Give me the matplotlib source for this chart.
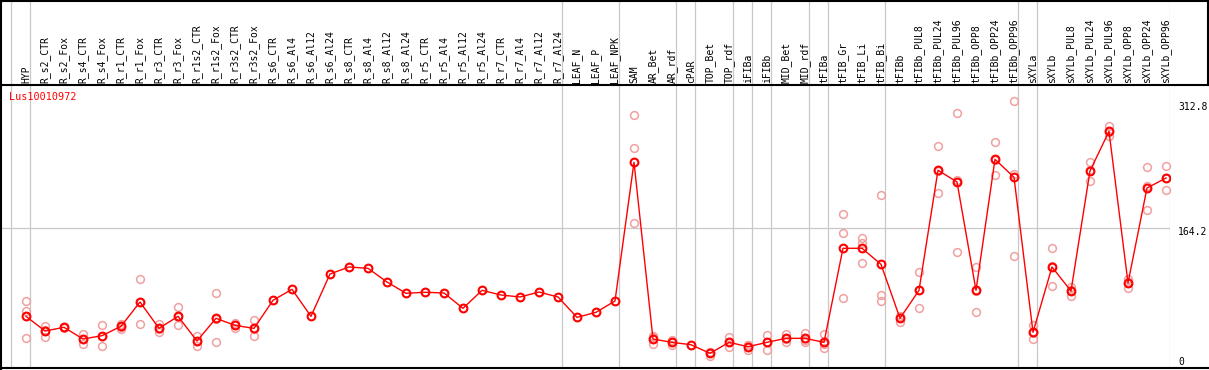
import numpy as np
import matplotlib
matplotlib.use("Agg")
import matplotlib.pyplot as plt
from matplotlib.lines import Line2D

categories = ["HYP",
    "R_s2_CTR", "R_s2_Fox", "R_s4_CTR", "R_s4_Fox", "R_r1_CTR", "R_r1_Fox", "R_r3_CTR", "R_r3_Fox",
    "R_r1s2_CTR", "R_r1s2_Fox", "R_r3s2_CTR", "R_r3s2_Fox", "R_s6_CTR", "R_s6_Al4", "R_s6_Al12", "R_s6_Al24",
    "R_s8_CTR", "R_s8_Al4", "R_s8_Al12", "R_s8_Al24", "R_r5_CTR", "R_r5_Al4", "R_r5_Al12", "R_r5_Al24",
    "R_r7_CTR", "R_r7_Al4", "R_r7_Al12", "R_r7_Al24",
    "LEAF_N", "LEAF_P", "LEAF_NPK",
    "SAM", "AR_Bet", "AR_rdf",
    "cPAR",
    "TOP_Bet", "TOP_rdf",
    "iFIBa", "iFIBb",
    "MID_Bet", "MID_rdf",
    "tFIBa",
    "tFIB_Gr", "tFIB_Li", "tFIB_Bi",
    "tFIBb", "tFIBb_PUL8", "tFIBb_PUL24", "tFIBb_PUL96", "tFIBb_OPP8", "tFIBb_OPP24", "tFIBb_OPP96",
    "sXYLa",
    "sXYLb", "sXYLb_PUL8", "sXYLb_PUL24", "sXYLb_PUL96", "sXYLb_OPP8", "sXYLb_OPP24", "sXYLb_OPP96"]

group_sizes = [1, 28, 3, 3, 1, 2, 1, 1, 2, 1, 3, 7, 1, 7]

means = [60.6,
    43.4, 47.7, 34.0, 37.9, 48.9, 77.4, 46.5, 60.6,
    31.7, 58.3, 50.0, 46.5, 79.4, 92.3, 60.6, 110.3,
    118.5, 116.9, 100.9, 87.6, 88.8, 88.0, 70.0, 91.1,
    85.6, 83.3, 89.1, 83.3,
    59.4, 65.3, 78.6,
    241.3, 34.0, 30.1,
    27.3,
    17.2, 30.1,
    25.0, 30.1,
    34.8, 34.8,
    30.1,
    140.4, 140.4, 121.6,
    58.3, 91.1, 231.9, 218.2, 91.1, 244.8, 223.7,
    41.9,
    118.5, 90.3, 231.1, 277.6, 99.7, 211.1, 222.8]

nan = np.nan
rep1 = [78.6,
    49.3, 48.5, 39.9, 50.0, 52.0, 104.0, 51.6, 71.5,
    37.9, 87.6, 53.0, 56.3, nan, nan, nan, nan,
    nan, nan, nan, nan, nan, nan, nan, nan,
    nan, nan, nan, nan,
    nan, nan, nan,
    296.4, 37.9, 32.7,
    nan,
    19.2, 36.0,
    27.0, 38.3,
    39.9, 41.4,
    39.5,
    180.2, 152.8, 202.6,
    61.3, 112.2, 260.0, 298.7, 118.1, 264.7, 312.8,
    50.4,
    140.4, 94.6, 241.6, 283.8, 104.7, 235.4, 236.6]
rep2 = [66.9,
    36.4, 46.5, 28.5, 26.2, 46.1, 51.2, 42.2, 50.0,
    25.8, 30.1, 47.0, 37.1, nan, nan, nan, nan,
    nan, nan, nan, nan, nan, nan, nan, nan,
    nan, nan, nan, nan,
    nan, nan, nan,
    257.7, 28.1, 27.0,
    nan,
    13.7, 24.3,
    21.1, 21.5,
    30.1, 30.1,
    23.1,
    158.0, 147.0, 85.6,
    54.3, 70.0, 204.9, 135.7, 65.3, 226.0, 131.0,
    33.7,
    95.8, 84.8, 219.0, 272.1, 93.8, 185.0, 208.8]
rep3 = [34.8,
    44.5, 48.1, 33.6, 37.5, 48.6, 77.0, 45.8, 60.3,
    31.4, 57.2, 50.0, 46.1, nan, nan, nan, nan,
    nan, nan, nan, nan, nan, nan, nan, nan,
    nan, nan, nan, nan,
    nan, nan, nan,
    169.7, 36.0, 30.6,
    nan,
    18.7, 30.0,
    27.0, 30.6,
    34.4, 33.0,
    27.7,
    81.7, 122.8, 78.6,
    59.3, 91.1, 230.8, 220.2, 90.0, 243.7, 227.3,
    41.6,
    119.3, 91.5, 232.7, 277.0, 100.6, 212.9, 223.0]

title = "Lus10010972"
y_max_label = "312.8"
y_mid_label = "164.2"
y_mid = 164.2

W, H = 1209, 370
fig = plt.figure(figsize=(W / 100, H / 100), dpi=100)
fig.patch.set_facecolor("white")

FONT = "DejaVu Sans Mono"
FS = 7

# pixel geometry
ax_left_px, ax_right_px = 1, 1170
plot_top_px, plot_bot_px = 86, 368
head_top_px, head_bot_px = 0, 85

x0 = (ax_left_px - 26) / 19.0
x1 = (ax_right_px - 26) / 19.0

ax = fig.add_axes([ax_left_px / W, 1 - plot_bot_px / H,
                   (ax_right_px - ax_left_px) / W, (plot_bot_px - plot_top_px) / H])
axh = fig.add_axes([ax_left_px / W, 1 - head_bot_px / H,
                    (ax_right_px - ax_left_px) / W, (head_bot_px - head_top_px) / H])

ymax = (plot_bot_px - plot_top_px) / 0.8526
for a in (ax, axh):
    a.set_xlim(x0, x1)
    a.set_axis_off()
ax.set_ylim(0, ymax)
axh.set_ylim(0, 1)

grid_col = "#c8c8c8"
bounds = np.concatenate([[-1], np.cumsum(group_sizes) - 1]) + 0.22
for b in bounds:
    ax.axvline(b, color=grid_col, lw=0.9, zorder=0)
    axh.axvline(b, color=grid_col, lw=0.9, zorder=0)
ax.axhline(y_mid, color=grid_col, lw=0.9, zorder=0)

xs = np.arange(len(categories))
for reps in (rep1, rep2, rep3):
    ax.plot(xs, reps, linestyle="none", marker="o", markersize=5.6, mfc="none",
            mec="#f0a0a0", mew=1.1, zorder=2, clip_on=False)
ax.plot(xs, means, color="#ff0000", lw=1.0, zorder=3)
ax.plot(xs, means, linestyle="none", marker="o", markersize=5.6, mfc="none",
        mec="#ff0000", mew=1.5, zorder=4)

for i, c in enumerate(categories):
    axh.text(i, (head_bot_px - 83) / (head_bot_px - head_top_px), c, rotation=90,
             ha="center", va="bottom", fontsize=FS, family=FONT, color="black")

fig.text(9 / W, 1 - 97 / H, title, color="#ff0000", fontsize=FS + 0.3, family=FONT,
         ha="left", va="center")
fig.text(1178 / W, 1 - 107 / H, y_max_label, fontsize=FS, family=FONT, ha="left", va="center")
fig.text(1178 / W, 1 - 232 / H, y_mid_label, fontsize=FS, family=FONT, ha="left", va="center")
fig.text(1178 / W, 1 - 362 / H, "0", fontsize=FS, family=FONT, ha="left", va="center")

def fl(xa, ya, xb, yb, lw=1.5):
    fig.add_artist(Line2D([xa / W, xb / W], [1 - ya / H, 1 - yb / H], color="black",
                          lw=lw, transform=fig.transFigure))

fl(1, 0.5, 1208, 0.5)          # top
fl(1, 0, 1, 369)               # left
fl(1, 368, 1209, 368)          # bottom
fl(1, 85, 1209, 85)            # header bottom
fl(1208, 0, 1208, 85)          # header right

fig.savefig("out.png", dpi=100, facecolor="white")
